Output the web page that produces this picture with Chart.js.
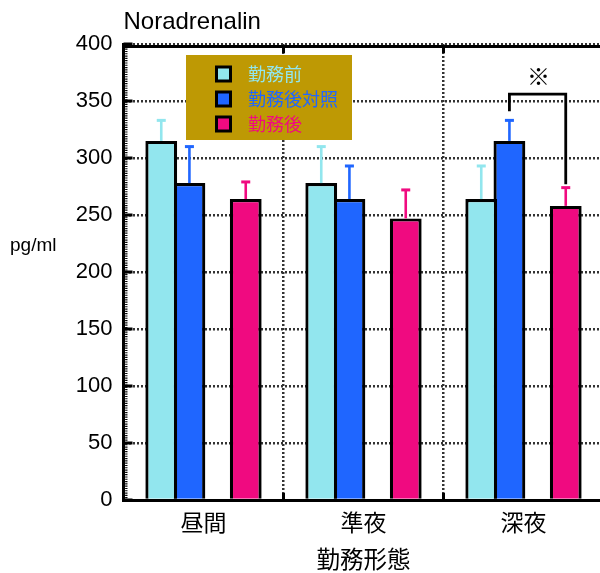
<!DOCTYPE html>
<html>
<head>
<meta charset="utf-8">
<script src="https://cdn.jsdelivr.net/npm/chart.js@4.4.1/dist/chart.umd.min.js"></script>
<style>
  html, body { margin: 0; padding: 0; overflow: hidden; background: #fff; }
  #wrap { position: relative; width: 606px; height: 573px; }
</style>
</head>
<body>
<div id="wrap"><canvas id="c" width="606" height="573"></canvas></div>
<script>
// Noradrenalin by shift type (mean, upper SD)
const categories = ['昼間', '準夜', '深夜'];
const seriesNames = ['勤務前', '勤務後対照', '勤務後'];
const beforeShift = [315, 278, 264];
const beforeShiftSd = [18, 32, 29];
const controlAfter = [278, 264, 315];
const controlAfterSd = [32, 29, 18];
const afterShift = [264, 247, 258];
const afterShiftSd = [15, 25, 16];
const yTickValues = [0, 50, 100, 150, 200, 250, 300, 350, 400];

// significance bracket: 勤務後対照 vs 勤務後 in 深夜 (values in pg/ml)
const sigCategory = '深夜';
const sigFrom = 1;          // dataset index
const sigTo = 3;            // dataset index
const sigLevels = [341, 356, 277]; // left end, top, right end
const sigMarkLevel = 372;
const sigMark = '※';

const colors = ['#92E6EE', '#1F66FF', '#F00A80'];
const legendBg = '#BE9904';
const cjk = '"Noto Sans CJK JP", "Noto Sans", sans-serif';
const latin = '"Liberation Sans", Arial, sans-serif';

function bar(label, data, color, sd) {
  return {
    label, data,
    backgroundColor: color,
    borderColor: '#000',
    borderWidth: 3.2,
    borderSkipped: 'bottom',
    errorUp: sd,
    errColor: color
  };
}

const decorations = {
  id: 'decorations',
  afterDatasetsDraw(chart) {
    const ctx = chart.ctx;
    const a = chart.chartArea;
    const xs = chart.scales.x, ys = chart.scales.y;
    ctx.save();

    // error bars (upper only)
    chart.data.datasets.forEach((ds, di) => {
      if (!ds.errorUp) return;
      const meta = chart.getDatasetMeta(di);
      meta.data.forEach((el, i) => {
        const top = ys.getPixelForValue(ds.data[i] + ds.errorUp[i]);
        ctx.strokeStyle = ds.errColor;
        ctx.lineWidth = 2.6;
        ctx.beginPath();
        ctx.moveTo(el.x, el.y);
        ctx.lineTo(el.x, top);
        ctx.stroke();
        ctx.lineWidth = 3;
        ctx.beginPath();
        ctx.moveTo(el.x - 4.5, top);
        ctx.lineTo(el.x + 4.5, top);
        ctx.stroke();
      });
    });

    // frame: top line, inward ticks, minor ticks on left axis
    ctx.strokeStyle = '#000';
    ctx.lineWidth = 3;
    ctx.beginPath();
    ctx.moveTo(a.left, a.top + 2.5);
    ctx.lineTo(a.right, a.top + 2.5);
    ctx.stroke();

    yTickValues.forEach(v => {
      const py = ys.getPixelForValue(v);
      ctx.beginPath();
      ctx.moveTo(a.left, py);
      ctx.lineTo(a.left + 9, py);
      ctx.stroke();
    });

    for (let i = 0; i < categories.length; i++) {
      const bx = i === categories.length - 1 ? a.right
        : (xs.getPixelForValue(i) + xs.getPixelForValue(i + 1)) / 2;
      ctx.beginPath();
      ctx.moveTo(bx, a.bottom);
      ctx.lineTo(bx, a.bottom - 7);
      ctx.moveTo(bx, a.top + 2);
      ctx.lineTo(bx, a.top + 9);
      ctx.stroke();
    }

    ctx.lineWidth = 2.4;
    ctx.setLineDash([1.15, 1.15]);
    ctx.beginPath();
    ctx.moveTo(a.left + 2.8, a.top);
    ctx.lineTo(a.left + 2.8, a.bottom);
    ctx.stroke();
    ctx.setLineDash([]);

    // significance bracket
    const ci = categories.indexOf(sigCategory);
    const x1 = chart.getDatasetMeta(sigFrom).data[ci].x;
    const x2 = chart.getDatasetMeta(sigTo).data[ci].x;
    const yl = ys.getPixelForValue(sigLevels[0]);
    const yt = ys.getPixelForValue(sigLevels[1]);
    const yr = ys.getPixelForValue(sigLevels[2]);
    ctx.lineWidth = 2.8;
    ctx.lineJoin = 'miter';
    ctx.beginPath();
    ctx.moveTo(x1, yl);
    ctx.lineTo(x1, yt);
    ctx.lineTo(x2, yt);
    ctx.lineTo(x2, yr);
    ctx.stroke();
    ctx.fillStyle = '#000';
    ctx.font = '23px ' + cjk;
    ctx.textAlign = 'center';
    ctx.textBaseline = 'middle';
    ctx.fillText(sigMark, (x1 + x2) / 2 + 1, ys.getPixelForValue(sigMarkLevel));

    // legend
    const lx = a.left + 62.5, ly = a.top + 11;
    ctx.fillStyle = legendBg;
    ctx.fillRect(lx, ly, 166, 85);
    const legendSets = chart.data.datasets.filter(d => d.errorUp);
    legendSets.forEach((ds, k) => {
      const cy = ly + 19 + k * 25;
      ctx.fillStyle = '#000';
      ctx.fillRect(lx + 29, cy - 8.5, 17, 17);
      ctx.fillStyle = ds.backgroundColor;
      ctx.fillRect(lx + 32, cy - 5.5, 11, 11);
      ctx.font = '18px ' + cjk;
      ctx.textAlign = 'left';
      ctx.textBaseline = 'middle';
      ctx.fillText(ds.label, lx + 62, cy);
    });

    // y unit label
    ctx.fillStyle = '#000';
    ctx.font = '19px ' + latin;
    ctx.textAlign = 'left';
    ctx.textBaseline = 'middle';
    ctx.fillText('pg/ml', 10, a.top + 202);

    ctx.restore();
  }
};

new Chart(document.getElementById('c'), {
  type: 'bar',
  data: {
    labels: categories,
    datasets: [
      bar(seriesNames[0], beforeShift, colors[0], beforeShiftSd),
      bar(seriesNames[1], controlAfter, colors[1], controlAfterSd),
      { label: '', data: [null, null, null] },
      bar(seriesNames[2], afterShift, colors[2], afterShiftSd)
    ]
  },
  options: {
    responsive: false,
    animation: false,
    layout: { padding: { left: 0, right: 2.5, top: 0, bottom: 0 } },
    datasets: { bar: { categoryPercentage: 0.704, barPercentage: 1.13 } },
    plugins: {
      legend: { display: false },
      tooltip: { enabled: false },
      title: {
        display: true,
        text: 'Noradrenalin',
        align: 'start',
        fullSize: false,
        color: '#000',
        font: { family: latin, size: 24, weight: 'normal' },
        padding: { top: 8, bottom: 7.2 }
      }
    },
    scales: {
      x: {
        grid: { color: '#333', lineWidth: 2.5, drawTicks: false, offset: true },
        border: { display: true, color: '#000', width: 3, dash: [2, 2] },
        ticks: { color: '#000', font: { family: cjk, size: 23 }, padding: 8 },
        title: {
          display: true, text: '勤務形態', color: '#000',
          font: { family: cjk, size: 23.5 }, padding: { top: 0, bottom: 0 }
        },
        afterFit(s) { s.height = 73; }
      },
      y: {
        min: 0, max: 400,
        afterBuildTicks(s) { s.ticks = yTickValues.map(v => ({ value: v })); },
        grid: { color: '#333', lineWidth: 2.5, drawTicks: false },
        border: { display: true, color: '#000', width: 3, dash: [2, 2] },
        ticks: { color: '#000', font: { family: latin, size: 22 }, padding: 11 },
        afterFit(s) { s.width = 123.5; }
      }
    }
  },
  plugins: [decorations]
});
</script>
</body>
</html>
